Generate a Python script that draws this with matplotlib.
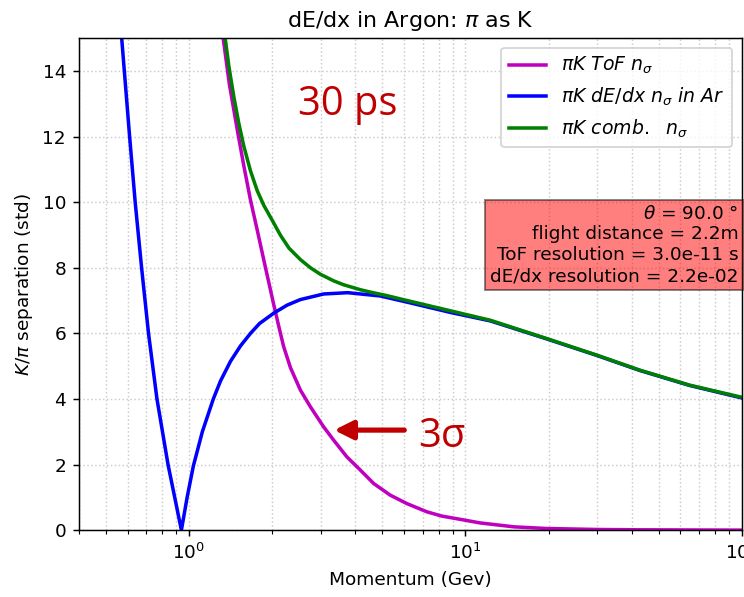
import matplotlib
matplotlib.use('Agg')
import matplotlib.pyplot as plt

# values (momentum in GeV, separation in std)
tof_p = [1.30, 1.33, 1.40, 1.496, 1.58, 1.67, 1.766, 1.866, 2.017, 2.115, 2.2,
         2.33, 2.53, 2.75, 3.07, 3.34, 3.73, 4.17, 4.66, 5.34, 6.14, 7.25,
         8.2, 9.57, 11.3, 15.0, 19.7, 30.0, 42.7, 100.0]
tof_v = [15.8, 15.0, 13.6, 12.2, 11.1, 10.06, 9.15, 8.23, 6.95, 6.2, 5.6,
         4.95, 4.27, 3.76, 3.15, 2.74, 2.23, 1.83, 1.42, 1.07, 0.81, 0.56,
         0.43, 0.33, 0.22, 0.10, 0.05, 0.02, 0.01, 0.0]

dedx_p = [0.548, 0.571, 0.610, 0.639, 0.674, 0.714, 0.766, 0.840, 0.939, 0.985,
          1.037, 1.118, 1.225, 1.301, 1.414, 1.537, 1.67, 1.80, 2.03, 2.265,
          2.53, 3.07, 3.75, 4.92, 6.31, 8.8, 12.3, 19.7, 29.8, 42.7, 64.8, 100.0]
dedx_v = [17.0, 15.0, 12.0, 10.0, 8.0, 6.0, 4.0, 2.0, 0.0, 1.0,
          1.95, 3.0, 4.0, 4.55, 5.15, 5.62, 6.0, 6.3, 6.62, 6.86,
          7.03, 7.20, 7.24, 7.14, 6.93, 6.64, 6.38, 5.83, 5.33, 4.87, 4.41, 4.03]

comb_p = [1.33, 1.357, 1.394, 1.454, 1.515, 1.58, 1.67, 1.766, 1.866, 2.0,
          2.14, 2.3, 2.53, 2.75, 2.99, 3.34, 3.63, 4.17, 4.52, 5.2, 5.95,
          7.66, 8.8, 12.3, 19.7, 29.8, 42.7, 64.8, 100.0]
comb_v = [15.45, 14.9, 14.15, 13.2, 12.4, 11.7, 10.95, 10.35, 9.9, 9.45,
          9.0, 8.6, 8.25, 8.0, 7.8, 7.6, 7.48, 7.33, 7.26, 7.15, 7.03,
          6.81, 6.69, 6.40, 5.84, 5.34, 4.88, 4.42, 4.05]

labels = [r'$\pi K\ ToF\ n_{\sigma}$',
          r'$\pi K\ dE/dx\ n_{\sigma}\ in\ Ar$',
          r'$\pi K\ comb.\ \ n_{\sigma}$']

info = ('$\\theta$ = 90.0 °\nflight distance = 2.2m\n'
        'ToF resolution = 3.0e-11 s\ndE/dx resolution = 2.2e-02')

fig = plt.figure(figsize=(5.6, 4.489), dpi=133)
ax = fig.add_axes([0.106, 0.112, 0.89, 0.824])

ax.plot(tof_p, tof_v, color='m', lw=1.9, label=labels[0])
ax.plot(dedx_p, dedx_v, color='b', lw=1.9, label=labels[1])
ax.plot(comb_p, comb_v, color='g', lw=1.9, label=labels[2])

ax.set_xscale('log')
ax.set_xlim(0.4, 100)
ax.set_ylim(0, 15)
ax.grid(True, which='both', linestyle=':', color='#cccccc')
ax.set_title(r'dE/dx in Argon: $\pi$ as K')
ax.set_xlabel('Momentum (Gev)')
ax.set_ylabel(r'$K/\pi$ separation (std)')
ax.legend(loc='upper right', fontsize=10.2)

ax.text(0.995, 8.7, info, transform=ax.get_yaxis_transform(), ha='right',
        va='center', multialignment='right',
        bbox=dict(boxstyle='square,pad=0.25', facecolor='red',
                  edgecolor='black', alpha=0.5))

# slide annotations
red = '#C00000'
ax.text(2.47, 12.65, '30 ps', color=red, fontsize=21.6,
        family=['Open Sans', 'DejaVu Sans'], va='baseline')
ax.annotate('', xy=(3.25, 3.05), xytext=(6.2, 3.05),
            arrowprops=dict(arrowstyle='-|>', color=red, lw=2.8,
                            mutation_scale=21))
ax.text(6.75, 2.53, '3σ', color=red, fontsize=21.6,
        family=['Open Sans', 'DejaVu Sans'], va='baseline')

fig.savefig('out.png', dpi=133)
